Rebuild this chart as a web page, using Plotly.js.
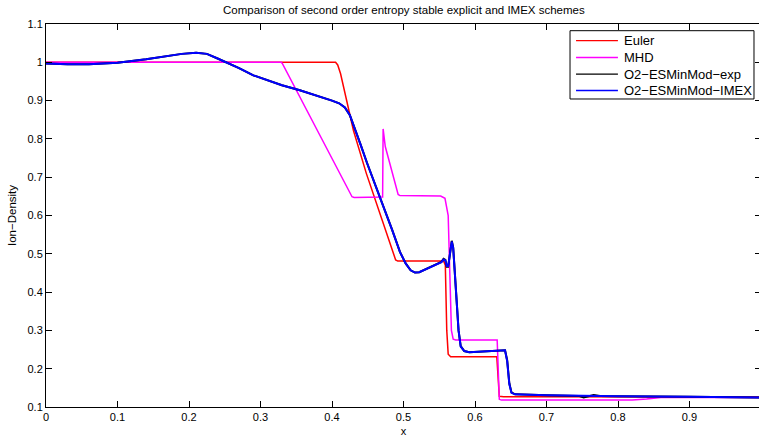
<!DOCTYPE html>
<html>
<head>
<meta charset="utf-8">
<script src="https://cdn.plot.ly/plotly-3.0.1.min.js"></script>
<style>
html,body{margin:0;padding:0;overflow:hidden;background:#fff;}
#chart{width:762px;height:441px;}
</style>
</head>
<body>
<div id="chart"></div>
<script>
// ---- data ----
const eulerX = [0, 0.405, 0.408, 0.412, 0.43, 0.448, 0.47, 0.489, 0.492, 0.556, 0.5585, 0.5605, 0.5625, 0.566, 0.6305, 0.632, 0.634, 0.64, 1.0];
const eulerY = [1, 1, 0.993, 0.97, 0.822, 0.71, 0.589, 0.484, 0.481, 0.481, 0.47, 0.3, 0.238, 0.231, 0.231, 0.18, 0.128, 0.127, 0.126];

const mhdX = [0, 0.329, 0.3305, 0.428, 0.431, 0.4708, 0.4715, 0.4728, 0.4745, 0.4925, 0.495, 0.552, 0.558, 0.5625, 0.565, 0.567, 0.5695, 0.573, 0.631, 0.6325, 0.634, 0.637, 0.82, 0.84, 0.86, 1.0];
const mhdY = [1, 1, 0.997, 0.649, 0.647, 0.648, 0.826, 0.80, 0.78, 0.655, 0.652, 0.651, 0.645, 0.60, 0.45, 0.30, 0.277, 0.275, 0.275, 0.2, 0.12, 0.118, 0.118, 0.121, 0.125, 0.125];

const imexX = [0, 0.03, 0.06, 0.1, 0.14, 0.17, 0.19, 0.21, 0.225, 0.24, 0.255, 0.27, 0.29, 0.31, 0.33, 0.355, 0.38, 0.40, 0.41, 0.418, 0.425, 0.432, 0.44, 0.449, 0.46, 0.472, 0.484, 0.495, 0.503, 0.51, 0.516, 0.522, 0.53, 0.54, 0.548, 0.553, 0.556, 0.5585, 0.5605, 0.5625, 0.565, 0.5675, 0.5695, 0.572, 0.5745, 0.577, 0.58, 0.585, 0.592, 0.61, 0.63, 0.638, 0.642, 0.645, 0.648, 0.651, 0.656, 0.7, 0.75, 0.8, 0.9, 1.0];
const imexY = [0.997, 0.995, 0.995, 0.999, 1.008, 1.016, 1.022, 1.025, 1.022, 1.01, 0.998, 0.985, 0.966, 0.952, 0.94, 0.927, 0.913, 0.90, 0.893, 0.882, 0.862, 0.828, 0.785, 0.737, 0.683, 0.624, 0.563, 0.505, 0.475, 0.457, 0.451, 0.452, 0.459, 0.468, 0.474, 0.478, 0.485, 0.483, 0.468, 0.468, 0.50, 0.532, 0.515, 0.44, 0.37, 0.30, 0.258, 0.246, 0.243, 0.245, 0.247, 0.249, 0.248, 0.22, 0.16, 0.137, 0.133, 0.131, 0.129, 0.128, 0.127, 0.125];

const expX = [0, 0.03, 0.06, 0.1, 0.14, 0.17, 0.19, 0.21, 0.225, 0.24, 0.255, 0.27, 0.29, 0.31, 0.33, 0.355, 0.38, 0.40, 0.41, 0.418, 0.425, 0.432, 0.44, 0.449, 0.46, 0.472, 0.484, 0.495, 0.503, 0.51, 0.516, 0.522, 0.53, 0.54, 0.548, 0.553, 0.556, 0.5585, 0.5605, 0.5625, 0.565, 0.5675, 0.5695, 0.572, 0.5745, 0.577, 0.58, 0.585, 0.592, 0.61, 0.63, 0.638, 0.642, 0.645, 0.648, 0.651, 0.656, 0.7, 0.745, 0.752, 0.758, 0.766, 0.775, 0.8, 0.9, 1.0];
const expY = [0.997, 0.995, 0.995, 0.999, 1.008, 1.016, 1.022, 1.025, 1.022, 1.01, 0.998, 0.985, 0.966, 0.952, 0.94, 0.927, 0.913, 0.90, 0.893, 0.882, 0.862, 0.828, 0.785, 0.737, 0.683, 0.624, 0.563, 0.505, 0.475, 0.457, 0.451, 0.452, 0.459, 0.468, 0.474, 0.479, 0.487, 0.484, 0.466, 0.466, 0.50, 0.534, 0.517, 0.445, 0.372, 0.30, 0.259, 0.246, 0.243, 0.245, 0.247, 0.249, 0.248, 0.222, 0.162, 0.138, 0.133, 0.131, 0.129, 0.125, 0.127, 0.131, 0.129, 0.128, 0.127, 0.125];

const seriesNames = ['Euler', 'MHD', 'O2\u2212ESMinMod\u2212exp', 'O2\u2212ESMinMod\u2212IMEX'];
const seriesColors = ['#ff0000', '#ff00ff', '#000000', '#0000ff'];

const xTicks = [0, 0.1, 0.2, 0.3, 0.4, 0.5, 0.6, 0.7, 0.8, 0.9, 1];
const yTicks = [0.1, 0.2, 0.3, 0.4, 0.5, 0.6, 0.7, 0.8, 0.9, 1, 1.1];

const seriesX = [eulerX, mhdX, expX, imexX];
const seriesY = [eulerY, mhdY, expY, imexY];
const widths = [1.5, 1.5, 2, 2];

const traces = seriesNames.map((n, i) => ({
  x: seriesX[i], y: seriesY[i], name: n, mode: 'lines',
  line: {color: seriesColors[i], width: widths[i]}
}));

// MATLAB-style legend box (paper coordinates)
const legBox = {x0: 0.7329, x1: 0.9902, y0: 0.8042, y1: 0.9825};
const legRows = [0.9564, 0.9125, 0.8689, 0.8264];
const shapes = [{type: 'rect', xref: 'paper', yref: 'paper', x0: legBox.x0, x1: legBox.x1, y0: legBox.y0, y1: legBox.y1,
                 line: {color: '#000', width: 1}, fillcolor: '#fff', layer: 'above'}];
const annotations = [];
seriesNames.forEach((n, i) => {
  shapes.push({type: 'line', xref: 'paper', yref: 'paper', x0: 0.7413, x1: 0.7999, y0: legRows[i], y1: legRows[i],
               line: {color: seriesColors[i], width: 1.3}, layer: 'above'});
  annotations.push({xref: 'paper', yref: 'paper', x: 0.8056, y: legRows[i], xanchor: 'left', yanchor: 'middle',
                    text: n, showarrow: false, font: {size: 13, color: '#000'}});
});

const axisCommon = {
  showline: true, linecolor: '#000', linewidth: 1, mirror: 'ticks',
  ticks: 'inside', ticklen: 6, tickcolor: '#000', tickwidth: 1,
  showgrid: false, zeroline: false,
  tickfont: {family: 'Liberation Sans, Arial, sans-serif', size: 11, color: '#000'}
};

const layout = {
  width: 762, height: 441,
  margin: {l: 46, r: 1, t: 24, b: 34},
  paper_bgcolor: '#fff', plot_bgcolor: '#fff',
  font: {family: 'Liberation Sans, Arial, sans-serif', size: 11, color: '#000'},
  title: {text: 'Comparison of second order entropy stable explicit and IMEX schemes',
          font: {size: 11.5, color: '#000'}, x: 0.53, xref: 'container', y: 0.978, yref: 'container', yanchor: 'middle'},
  xaxis: Object.assign({}, axisCommon, {
    range: [0, 1], tickvals: xTicks, ticktext: xTicks.map(String),
    title: {text: 'x', font: {size: 11}, standoff: 5}
  }),
  yaxis: Object.assign({}, axisCommon, {
    range: [0.1, 1.1], tickvals: yTicks, ticktext: yTicks.map(String),
    title: {text: 'Ion\u2212Density', font: {size: 11.5}, standoff: 8}
  }),
  showlegend: false,
  shapes: shapes,
  annotations: annotations
};

Plotly.newPlot('chart', traces, layout, {displayModeBar: false, staticPlot: true});
</script>
</body>
</html>
